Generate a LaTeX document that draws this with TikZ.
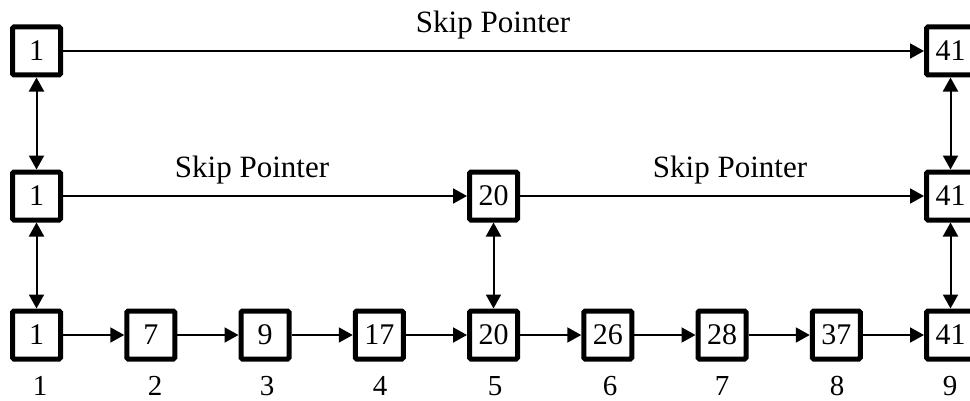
\documentclass[tikz,border=0pt]{standalone}
\usepackage{fontspec}
\setmainfont{Liberation Serif}
\usetikzlibrary{arrows.meta}
\begin{document}
\begin{tikzpicture}[x=1pt,y=1pt,
  keybox/.style={draw, line width=5pt, rounded corners=1.5pt, minimum size=48pt,
    inner sep=0pt, font=\fontsize{30}{32}\selectfont, fill=white},
  idx/.style={anchor=base, inner sep=0pt, text depth=0pt, font=\fontsize{29}{31}\selectfont},
  tag/.style={inner sep=0pt, font=\fontsize{31}{33}\selectfont},
  link/.style={line width=2pt, -{Triangle[length=14pt,width=15pt]}},
  vlink/.style={line width=2pt, {Triangle[length=14pt,width=15pt]}-{Triangle[length=14pt,width=15pt]}}]
\useasboundingbox (0,0) rectangle (970,400);
\fill[white] (0,0) rectangle (970,400);
\begin{scope}
\clip (0,0) rectangle (970,400);
% bottom level: every element
\foreach \v [count=\i from 0] in {1,7,9,17,20,26,28,37,41}
  \node[keybox] (b\i) at ({36.5+114.25*\i},65) {\v};
% middle level
\node[keybox] (m0) at (36.5,204) {1};
\node[keybox] (m4) at ({36.5+114.25*4},204) {20};
\node[keybox] (m8) at ({36.5+114.25*8},204) {41};
% top level
\node[keybox] (t0) at (36.5,349) {1};
\node[keybox] (t8) at ({36.5+114.25*8},349) {41};
% positions under the bottom level
\foreach \x [count=\n] in {40,155,267,380,495,610,722,837,950}
  \node[idx] (p\n) at (\x,5) {\n};
% forward links
\foreach \i [evaluate=\i as \j using int(\i+1)] in {0,...,7}
  \draw[link] (b\i) -- (b\j);
\draw[link] (m0) -- (m4);
\draw[link] (m4) -- (m8);
\draw[link] (t0) -- (t8);
% links between levels
\draw[vlink] (t0) -- (m0);
\draw[vlink] (m0) -- (b0);
\draw[vlink] (m4) -- (b4);
\draw[vlink] (t8) -- (m8);
\draw[vlink] (m8) -- (b8);
% labels
\node[tag] (s1) at (493,375) {Skip Pointer};
\node[tag] (s2) at (252,230) {Skip Pointer};
\node[tag] (s3) at (730,230) {Skip Pointer};
\end{scope}
\end{tikzpicture}
\end{document}
